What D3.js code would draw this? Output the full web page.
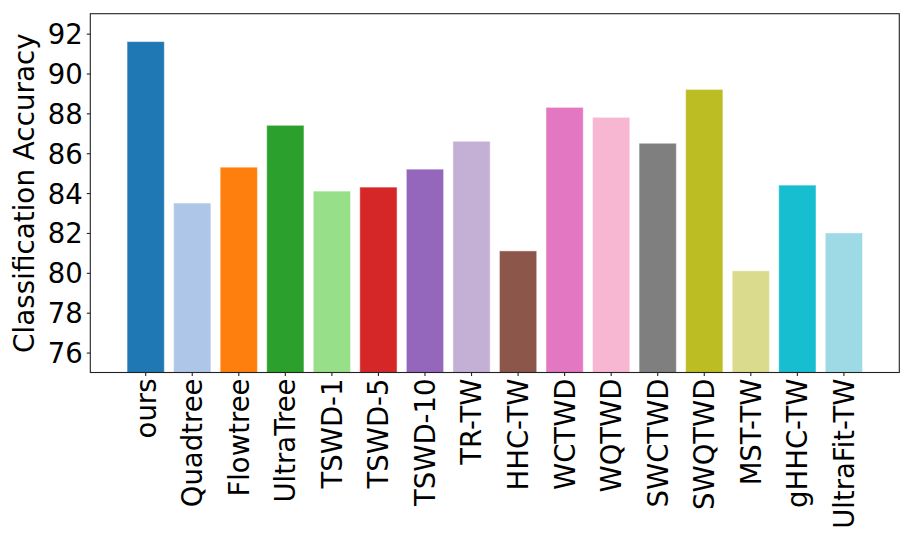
<!DOCTYPE html>
<html>
<head>
<meta charset="utf-8">
<script src="https://cdn.jsdelivr.net/npm/d3@7"></script>
<style>
  html, body { margin: 0; padding: 0; background: #fff; }
  svg { display: block; }
  text { font-family: "DejaVu Sans", sans-serif; fill: #000; }
</style>
</head>
<body>
<svg id="chart" width="913" height="548"></svg>
<script>
const categories = ["ours","Quadtree","Flowtree","UltraTree","TSWD-1","TSWD-5","TSWD-10","TR-TW","HHC-TW","WCTWD","WQTWD","SWCTWD","SWQTWD","MST-TW","gHHC-TW","UltraFit-TW"];
const accuracy = [91.6, 83.5, 85.3, 87.4, 84.1, 84.3, 85.2, 86.6, 81.1, 88.3, 87.8, 86.5, 89.2, 80.1, 84.4, 82.0];
const barColors = ["#1f77b4","#aec7e8","#ff7f0e","#2ca02c","#98df8a","#d62728","#9467bd","#c5b0d5","#8c564b","#e377c2","#f7b6d2","#7f7f7f","#bcbd22","#dbdb8d","#17becf","#9edae5"];
const yTicks = [76, 78, 80, 82, 84, 86, 88, 90, 92];
const yDomain = [75, 93];
const yLabel = "Classification Accuracy";

(function () {
const svg = d3.select("#chart");
const mLeft = 90.3, mRight = 899.3, mTop = 13.7, mBottom = 372.5;

// matplotlib-like band: xlim with 5% margins, bar width 0.8
const n = categories.length;
const span = n - 1 + 0.8;
const xLin = d3.scaleLinear().domain([-0.4 - 0.05 * span, n - 1 + 0.4 + 0.05 * span]).range([mLeft, mRight]);
const x = d3.scaleBand().domain(categories)
  .range([xLin(-0.5), xLin(n - 0.5)]).paddingInner(0.2).paddingOuter(0.1);
const y = d3.scaleLinear().domain(yDomain).range([mBottom, mTop]);

const g = svg.append("g");

g.selectAll("rect.bar").data(categories).enter().append("rect")
  .attr("class", "bar")
  .attr("x", d => x(d))
  .attr("width", x.bandwidth())
  .attr("y", (d, i) => y(accuracy[i]))
  .attr("height", (d, i) => y(yDomain[0]) - y(accuracy[i]))
  .attr("fill", (d, i) => barColors[i])
  .attr("stroke", "#ffffff").attr("stroke-opacity", 0.45).attr("stroke-width", 1);

// y axis
const yAxis = d3.axisLeft(y).tickValues(yTicks).tickSize(3.5).tickPadding(4).tickFormat(d3.format("d"));
const yg = g.append("g").attr("transform", `translate(${mLeft},0)`).call(yAxis);
yg.select(".domain").remove();
yg.selectAll("line").attr("stroke", "#222").attr("stroke-width", 1.1);
yg.selectAll("text").style("font-size", "27.5px").style("font-family", "DejaVu Sans").attr("fill", "#000").attr("dy", "0.36em");

// x axis
const xAxis = d3.axisBottom(x).tickSize(3.5).tickPadding(0);
const xg = g.append("g").attr("transform", `translate(0,${mBottom})`).call(xAxis);
xg.select(".domain").remove();
xg.selectAll("line").attr("stroke", "#222").attr("stroke-width", 1.1);
xg.selectAll("text")
  .style("font-size", "27.5px").style("font-family", "DejaVu Sans").attr("fill", "#000")
  .attr("text-anchor", "end")
  .attr("x", -6).attr("y", 0).attr("dy", "0.36em")
  .attr("transform", "rotate(-90)");

// frame
g.append("rect").attr("x", mLeft).attr("y", mTop).attr("width", mRight - mLeft).attr("height", mBottom - mTop)
  .attr("fill", "none").attr("stroke", "#222").attr("stroke-width", 1.1);

// y label
svg.append("text")
  .attr("transform", `translate(34,${(mTop + mBottom) / 2}) rotate(-90)`)
  .attr("text-anchor", "middle")
  .style("font-size", "27.8px")
  .text(yLabel);
})();
</script>
</body>
</html>
